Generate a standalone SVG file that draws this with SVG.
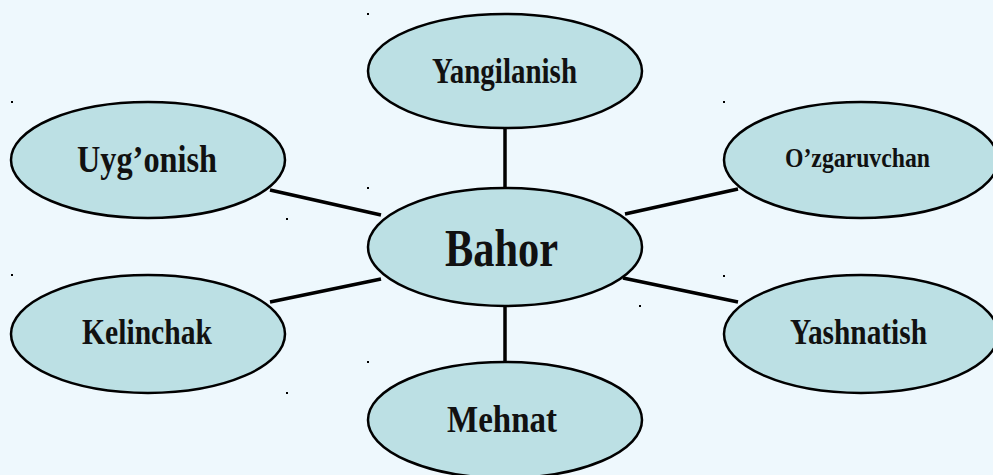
<svg xmlns="http://www.w3.org/2000/svg" width="993" height="475" viewBox="0 0 993 475">
<style>
.n ellipse{fill:#bce0e4;stroke:#000;stroke-width:2.5}
.n text{font-family:"Liberation Serif",serif;font-weight:bold;fill:#111;text-anchor:middle}
.c line{stroke:#000;stroke-width:3.5}
.d rect{fill:#000}
</style>
<rect width="993" height="475" fill="#eef8fd"/>
<g class="c" id="connectors">
<line x1="505" y1="128" x2="505" y2="190"/>
<line x1="505" y1="303" x2="505" y2="364"/>
<line x1="270" y1="190" x2="381" y2="215"/>
<line x1="270" y1="302" x2="381" y2="279"/>
<line x1="625" y1="214" x2="738" y2="189"/>
<line x1="623" y1="278" x2="738" y2="302"/>
</g>
<g class="n" id="yangilanish"><ellipse cx="505" cy="71" rx="137" ry="57"/><text x="504.5" y="83" font-size="36" textLength="145" lengthAdjust="spacingAndGlyphs">Yangilanish</text></g>
<g class="n" id="uygonish"><ellipse cx="148" cy="160" rx="137" ry="58"/><text x="147" y="172" font-size="38" textLength="140" lengthAdjust="spacingAndGlyphs">Uyg’onish</text></g>
<g class="n" id="ozgaruvchan"><ellipse cx="861" cy="160" rx="137" ry="58"/><text x="857.5" y="167" font-size="28" textLength="145" lengthAdjust="spacingAndGlyphs">O’zgaruvchan</text></g>
<g class="n" id="bahor"><ellipse cx="505" cy="247" rx="137" ry="59"/><text x="501.5" y="266" font-size="53" textLength="113" lengthAdjust="spacingAndGlyphs">Bahor</text></g>
<g class="n" id="kelinchak"><ellipse cx="148" cy="334" rx="137" ry="59"/><text x="147" y="344" font-size="36" textLength="130" lengthAdjust="spacingAndGlyphs">Kelinchak</text></g>
<g class="n" id="yashnatish"><ellipse cx="861" cy="334" rx="137" ry="59"/><text x="858.5" y="344" font-size="36" textLength="137" lengthAdjust="spacingAndGlyphs">Yashnatish</text></g>
<g class="n" id="mehnat"><ellipse cx="505" cy="420" rx="137" ry="58"/><text x="502" y="432" font-size="37" textLength="110" lengthAdjust="spacingAndGlyphs">Mehnat</text></g>
<g class="d">
<rect x="367" y="13" width="2" height="2"/>
<rect x="11" y="101" width="2" height="2"/>
<rect x="723" y="101" width="2" height="2"/>
<rect x="367" y="187" width="2" height="2"/>
<rect x="286" y="218" width="2" height="2"/>
<rect x="11" y="274" width="2" height="2"/>
<rect x="723" y="275" width="2" height="2"/>
<rect x="639" y="305" width="2" height="2"/>
<rect x="367" y="361" width="2" height="2"/>
<rect x="286" y="392" width="2" height="2"/>
</g>
</svg>
